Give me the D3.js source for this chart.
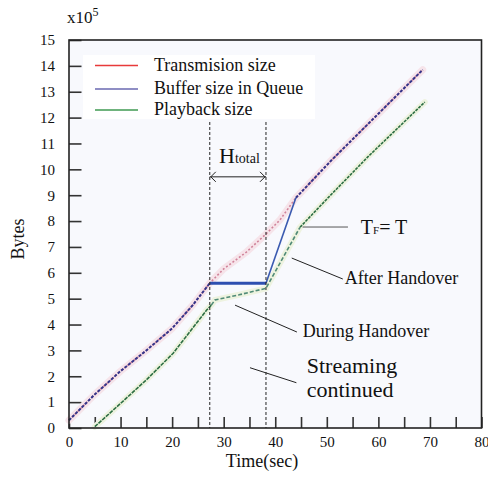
<!DOCTYPE html>
<html><head><meta charset="utf-8">
<script src="https://cdn.jsdelivr.net/npm/d3@7"></script>
<style>
html,body{margin:0;padding:0;background:#fff;}
svg text{font-family:"Liberation Serif","Times New Roman",serif;fill:#111;}
</style></head>
<body>
<svg id="chart" width="488" height="478"></svg>
<script>
// ---- data ----
const xTicks = [0,5,10,15,20,25,30,35,40,45,50,55,60,65,70,75,80];
const yTicks = [0,1,2,3,4,5,6,7,8,9,10,11,12,13,14,15];
const seriesNames = ["Transmision size","Buffer size in Queue","Playback size"];
const seriesColors = ["#e83a3a","#6a68b0","#3f9a52"];

const transTime = [0, 5, 10, 15, 20, 24, 27.3, 30, 34.4, 38.2, 40.9, 44, 50.9, 60, 68.6];
const transSize = [0.3, 1.3, 2.2, 3.0, 3.85, 4.75, 5.6, 6.15, 6.8, 7.5, 8.04, 8.9, 10.35, 12.15, 13.85];

const bufferTime = [0, 5, 10, 15, 20, 24, 27.3, 38.2, 44, 50.9, 60, 68.6];
const bufferSize = [0.3, 1.3, 2.2, 3.0, 3.85, 4.75, 5.6, 5.6, 8.9, 10.35, 12.15, 13.85];

const playTime = [5, 10, 15, 20.2, 26.7, 27.6, 28.3, 33, 38.2, 44.8, 50, 58, 69];
const playSize = [0.05, 0.95, 1.86, 2.89, 4.56, 4.75, 4.95, 5.15, 5.4, 7.76, 8.85, 10.49, 12.6];

const handoverStart = 27.3, handoverEnd = 38.2;

// ---- layout ----
const svg = d3.select("#chart");
const L = 69, R = 481.5, T = 40, B = 428;
const x = d3.scaleLinear().domain([0,80]).range([L,R]);
const y = d3.scaleLinear().domain([0,15]).range([B,T]);
const serif = '"Liberation Serif","Times New Roman",serif';

// plot background
svg.append("rect").attr("x",L).attr("y",T).attr("width",R-L).attr("height",B-T).attr("fill","#f8f9fd");
// legend white box
svg.append("rect").attr("x",83).attr("y",55).attr("width",232).attr("height",64).attr("fill","#ffffff");

// axes
const xAxis = d3.axisBottom(x).tickValues(xTicks).tickSize(-11).tickPadding(8)
  .tickFormat(d => d % 10 === 0 ? d : "");
const gx = svg.append("g").attr("transform",`translate(0,${B})`).call(xAxis);
const yAxis = d3.axisLeft(y).tickValues(yTicks).tickSize(-12.5).tickPadding(14);
const gy = svg.append("g").attr("transform",`translate(${L},0)`).call(yAxis);
[gx,gy].forEach(g=>{
  g.attr("font-family",serif);
  g.select(".domain").remove();
  g.selectAll(".tick line").attr("stroke","#333").attr("stroke-width",1.6);
  g.selectAll(".tick text").attr("font-size",15).attr("fill","#111").style("font-family",serif);
});
gx.selectAll(".tick text").attr("dy","0.75em");

// lines helpers
const lineGen = d3.line().x(d=>x(d[0])).y(d=>y(d[1]));
const zip = (a,b) => a.map((v,i)=>[v,b[i]]);
const trans = zip(transTime, transSize);
const buffer = zip(bufferTime, bufferSize);
const play = zip(playTime, playSize);

const plot = svg.append("g");
// scan halos
plot.append("path").datum(trans).attr("d",lineGen).attr("fill","none")
  .attr("stroke","#f6e4ea").attr("stroke-width",7).attr("stroke-linecap","round");
plot.append("path").datum(play).attr("d",lineGen).attr("fill","none")
  .attr("stroke","#eef3e0").attr("stroke-width",6).attr("stroke-linecap","round");

// transmission (red, faded dotted)
plot.append("path").datum(trans).attr("d",lineGen).attr("fill","none")
  .attr("stroke","#d0839a").attr("stroke-width",1.6).attr("stroke-dasharray","2,2");

// buffer: before / handover / after
const bi0 = bufferTime.indexOf(handoverStart), bi1 = bufferTime.indexOf(handoverEnd), bi2 = bi1 + 1;
plot.append("path").datum(buffer.slice(0,bi0+1)).attr("d",lineGen).attr("fill","none")
  .attr("stroke","#34348a").attr("stroke-width",2).attr("stroke-dasharray","3,1.5");
plot.append("path").datum(buffer.slice(bi2)).attr("d",lineGen).attr("fill","none")
  .attr("stroke","#34348a").attr("stroke-width",2).attr("stroke-dasharray","3,1.5");
plot.append("path").datum(buffer.slice(bi0,bi1+1)).attr("d",lineGen).attr("fill","none")
  .attr("stroke","#2e4fb0").attr("stroke-width",3);
plot.append("path").datum(buffer.slice(bi1,bi2+1)).attr("d",lineGen).attr("fill","none")
  .attr("stroke","#3a5ab0").attr("stroke-width",1.6);

// playback: before / handover (dashed) / after
const pi0 = 5, pi1 = 9;
plot.append("path").datum(play.slice(0,pi0+1)).attr("d",lineGen).attr("fill","none")
  .attr("stroke","#2c6e42").attr("stroke-width",1.6).attr("stroke-dasharray","4,1");
plot.append("path").datum(play.slice(pi0,pi1+1)).attr("d",lineGen).attr("fill","none")
  .attr("stroke","#4f8a76").attr("stroke-width",1.6).attr("stroke-dasharray","4,2");
plot.append("path").datum(play.slice(pi1)).attr("d",lineGen).attr("fill","none")
  .attr("stroke","#2c6e42").attr("stroke-width",1.6).attr("stroke-dasharray","3,1");

// vertical dashed handover lines
[handoverStart, handoverEnd].forEach(t=>{
  svg.append("line").attr("x1",x(t)).attr("x2",x(t)).attr("y1",y(11.83)).attr("y2",B)
    .attr("stroke","#222").attr("stroke-width",1).attr("stroke-dasharray","3,2");
});

// frame
svg.append("rect").attr("x",L).attr("y",T).attr("width",R-L).attr("height",B-T)
  .attr("fill","none").attr("stroke","#222").attr("stroke-width",1.6);

// H_total arrow
const ay = y(9.71), ax0 = x(handoverStart), ax1 = x(handoverEnd);
svg.append("line").attr("x1",ax0).attr("x2",ax1).attr("y1",ay).attr("y2",ay).attr("stroke","#222").attr("stroke-width",1);
svg.append("path").attr("d",`M${ax0+6},${ay-5}L${ax0+1},${ay}L${ax0+6},${ay+5}`).attr("fill","none").attr("stroke","#222").attr("stroke-width",1);
svg.append("path").attr("d",`M${ax1-6},${ay-5}L${ax1-1},${ay}L${ax1-6},${ay+5}`).attr("fill","none").attr("stroke","#222").attr("stroke-width",1);
const ht = svg.append("text").attr("x",x(29.1)).attr("y",y(10.24)).attr("font-size",22);
ht.append("tspan").text("H");
ht.append("tspan").attr("font-size",14).text("total");

// legend
seriesNames.forEach((n,i)=>{
  const ly = [65.5,89,110][i];
  svg.append("line").attr("x1",95).attr("x2",138).attr("y1",ly).attr("y2",ly)
    .attr("stroke",seriesColors[i]).attr("stroke-width",1.6);
  svg.append("text").attr("x",154).attr("y",ly+5).attr("font-size",18).text(n);
});

// annotations
const ann = svg.append("g").attr("stroke","#222").attr("stroke-width",1);
ann.append("line").attr("x1",x(45.3)).attr("y1",y(7.77)).attr("x2",x(54.1)).attr("y2",y(7.77)).attr("stroke","#555");
ann.append("line").attr("x1",x(43.2)).attr("y1",y(6.57)).attr("x2",x(53.1)).attr("y2",y(5.76));
ann.append("line").attr("x1",x(32.2)).attr("y1",y(4.75)).attr("x2",x(44.2)).attr("y2",y(3.71));
ann.append("line").attr("x1",x(35.1)).attr("y1",y(2.33)).attr("x2",x(44.1)).attr("y2",y(1.75));

const tf = svg.append("text").attr("x",x(56.6)).attr("y",y(7.5)).attr("font-size",20);
tf.append("tspan").text("T");
tf.append("tspan").attr("font-size",11).text("F");
tf.append("tspan").text("= T");
svg.append("text").attr("x",x(53.5)).attr("y",y(5.57)).attr("font-size",18).text("After Handover");
svg.append("text").attr("x",x(45.35)).attr("y",y(3.52)).attr("font-size",18).text("During Handover");
svg.append("text").attr("x",x(46.1)).attr("y",y(2.13)).attr("font-size",22).text("Streaming");
svg.append("text").attr("x",x(46.1)).attr("y",y(1.2)).attr("font-size",22).text("continued");

// axis titles & multiplier
svg.append("text").attr("x",262).attr("y",467).attr("text-anchor","middle").attr("font-size",18).text("Time(sec)");
svg.append("text").attr("transform","translate(24,239) rotate(-90)").attr("text-anchor","middle").attr("font-size",18).text("Bytes");
const mt = svg.append("text").attr("x",67).attr("y",23).attr("font-size",17);
mt.append("tspan").text("x10");
mt.append("tspan").attr("font-size",12).attr("dy",-7).text("5");
</script>
</body></html>
